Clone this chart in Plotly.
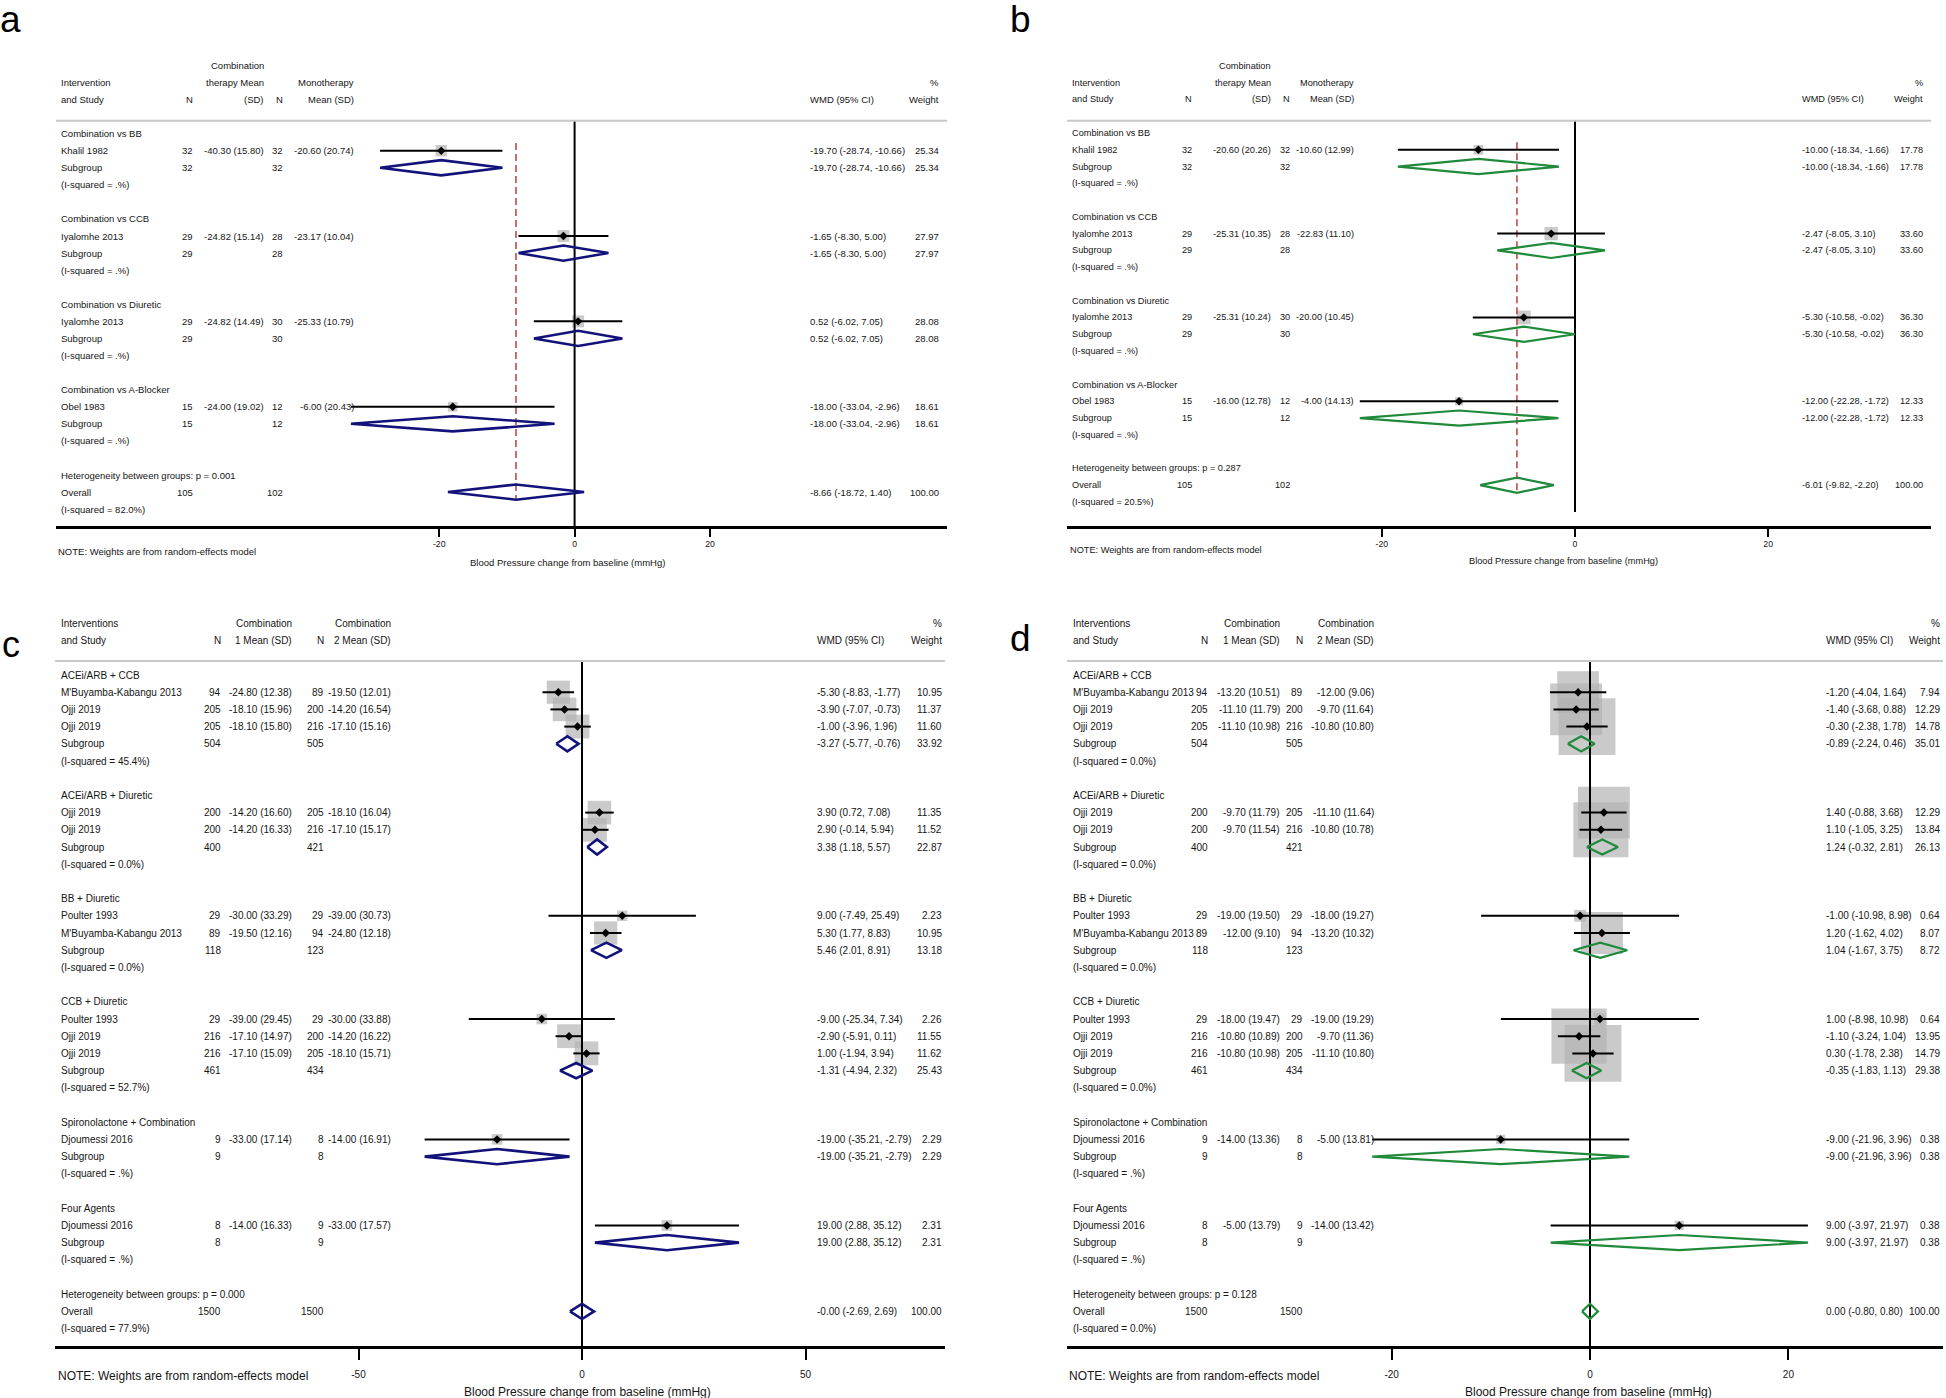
import math
import plotly.graph_objects as go

W, H = 1946, 1398
FONT = "Arial, 'Liberation Sans', Helvetica, sans-serif"
TXT = "#151515"

# ---------------- Panel a data ----------------
A_GROUPS = ["Combination vs BB", "Combination vs CCB", "Combination vs Diuretic", "Combination vs A-Blocker"]
A_STUDIES = ["Khalil 1982", "Iyalomhe 2013", "Iyalomhe 2013", "Obel 1983"]
A_STUDY_GROUP = [0, 1, 2, 3]
A_N1 = [32, 29, 29, 15]
A_MEAN1 = [-40.30, -24.82, -24.82, -24.00]
A_SD1 = [15.80, 15.14, 14.49, 19.02]
A_N2 = [32, 28, 30, 12]
A_MEAN2 = [-20.60, -23.17, -25.33, -6.00]
A_SD2 = [20.74, 10.04, 10.79, 20.43]
A_WMD = [-19.70, -1.65, 0.52, -18.00]
A_LO = [-28.74, -8.30, -6.02, -33.04]
A_HI = [-10.66, 5.00, 7.05, -2.96]
A_WEIGHT = [25.34, 27.97, 28.08, 18.61]
A_SUB_N1 = [32, 29, 29, 15]
A_SUB_N2 = [32, 28, 30, 12]
A_SUB_WMD = [-19.70, -1.65, 0.52, -18.00]
A_SUB_LO = [-28.74, -8.30, -6.02, -33.04]
A_SUB_HI = [-10.66, 5.00, 7.05, -2.96]
A_SUB_WEIGHT = [25.34, 27.97, 28.08, 18.61]
A_SUB_I2 = [None, None, None, None]
A_HET_P = 0.001
A_OV_N1, A_OV_N2 = 105, 102
A_OV_WMD, A_OV_LO, A_OV_HI, A_OV_WEIGHT, A_OV_I2 = -8.66, -18.72, 1.40, 100.00, 82.0

# ---------------- Panel b data ----------------
B_GROUPS = ["Combination vs BB", "Combination vs CCB", "Combination vs Diuretic", "Combination vs A-Blocker"]
B_STUDIES = ["Khalil 1982", "Iyalomhe 2013", "Iyalomhe 2013", "Obel 1983"]
B_STUDY_GROUP = [0, 1, 2, 3]
B_N1 = [32, 29, 29, 15]
B_MEAN1 = [-20.60, -25.31, -25.31, -16.00]
B_SD1 = [20.26, 10.35, 10.24, 12.78]
B_N2 = [32, 28, 30, 12]
B_MEAN2 = [-10.60, -22.83, -20.00, -4.00]
B_SD2 = [12.99, 11.10, 10.45, 14.13]
B_WMD = [-10.00, -2.47, -5.30, -12.00]
B_LO = [-18.34, -8.05, -10.58, -22.28]
B_HI = [-1.66, 3.10, -0.02, -1.72]
B_WEIGHT = [17.78, 33.60, 36.30, 12.33]
B_SUB_N1 = [32, 29, 29, 15]
B_SUB_N2 = [32, 28, 30, 12]
B_SUB_WMD = [-10.00, -2.47, -5.30, -12.00]
B_SUB_LO = [-18.34, -8.05, -10.58, -22.28]
B_SUB_HI = [-1.66, 3.10, -0.02, -1.72]
B_SUB_WEIGHT = [17.78, 33.60, 36.30, 12.33]
B_SUB_I2 = [None, None, None, None]
B_HET_P = 0.287
B_OV_N1, B_OV_N2 = 105, 102
B_OV_WMD, B_OV_LO, B_OV_HI, B_OV_WEIGHT, B_OV_I2 = -6.01, -9.82, -2.20, 100.00, 20.5

# ---------------- Panel c data ----------------
C_GROUPS = ["ACEi/ARB + CCB", "ACEi/ARB + Diuretic", "BB + Diuretic", "CCB + Diuretic",
            "Spironolactone + Combination", "Four Agents"]
C_STUDIES = ["M'Buyamba-Kabangu 2013", "Ojji 2019", "Ojji 2019", "Ojji 2019", "Ojji 2019",
             "Poulter 1993", "M'Buyamba-Kabangu 2013", "Poulter 1993", "Ojji 2019", "Ojji 2019",
             "Djoumessi 2016", "Djoumessi 2016"]
C_STUDY_GROUP = [0, 0, 0, 1, 1, 2, 2, 3, 3, 3, 4, 5]
C_N1 = [94, 205, 205, 200, 200, 29, 89, 29, 216, 216, 9, 8]
C_MEAN1 = [-24.80, -18.10, -18.10, -14.20, -14.20, -30.00, -19.50, -39.00, -17.10, -17.10, -33.00, -14.00]
C_SD1 = [12.38, 15.96, 15.80, 16.60, 16.33, 33.29, 12.16, 29.45, 14.97, 15.09, 17.14, 16.33]
C_N2 = [89, 200, 216, 205, 216, 29, 94, 29, 200, 205, 8, 9]
C_MEAN2 = [-19.50, -14.20, -17.10, -18.10, -17.10, -39.00, -24.80, -30.00, -14.20, -18.10, -14.00, -33.00]
C_SD2 = [12.01, 16.54, 15.16, 16.04, 15.17, 30.73, 12.18, 33.88, 16.22, 15.71, 16.91, 17.57]
C_WMD = [-5.30, -3.90, -1.00, 3.90, 2.90, 9.00, 5.30, -9.00, -2.90, 1.00, -19.00, 19.00]
C_LO = [-8.83, -7.07, -3.96, 0.72, -0.14, -7.49, 1.77, -25.34, -5.91, -1.94, -35.21, 2.88]
C_HI = [-1.77, -0.73, 1.96, 7.08, 5.94, 25.49, 8.83, 7.34, 0.11, 3.94, -2.79, 35.12]
C_WEIGHT = [10.95, 11.37, 11.60, 11.35, 11.52, 2.23, 10.95, 2.26, 11.55, 11.62, 2.29, 2.31]
C_SUB_N1 = [504, 400, 118, 461, 9, 8]
C_SUB_N2 = [505, 421, 123, 434, 8, 9]
C_SUB_WMD = [-3.27, 3.38, 5.46, -1.31, -19.00, 19.00]
C_SUB_LO = [-5.77, 1.18, 2.01, -4.94, -35.21, 2.88]
C_SUB_HI = [-0.76, 5.57, 8.91, 2.32, -2.79, 35.12]
C_SUB_WEIGHT = [33.92, 22.87, 13.18, 25.43, 2.29, 2.31]
C_SUB_I2 = [45.4, 0.0, 0.0, 52.7, None, None]
C_HET_P = 0.000
C_OV_N1, C_OV_N2 = 1500, 1500
C_OV_WMD, C_OV_LO, C_OV_HI, C_OV_WEIGHT, C_OV_I2 = -0.0, -2.69, 2.69, 100.00, 77.9

# ---------------- Panel d data ----------------
D_GROUPS = ["ACEi/ARB + CCB", "ACEi/ARB + Diuretic", "BB + Diuretic", "CCB + Diuretic",
            "Spironolactone + Combination", "Four Agents"]
D_STUDIES = ["M'Buyamba-Kabangu 2013", "Ojji 2019", "Ojji 2019", "Ojji 2019", "Ojji 2019",
             "Poulter 1993", "M'Buyamba-Kabangu 2013", "Poulter 1993", "Ojji 2019", "Ojji 2019",
             "Djoumessi 2016", "Djoumessi 2016"]
D_STUDY_GROUP = [0, 0, 0, 1, 1, 2, 2, 3, 3, 3, 4, 5]
D_N1 = [94, 205, 205, 200, 200, 29, 89, 29, 216, 216, 9, 8]
D_MEAN1 = [-13.20, -11.10, -11.10, -9.70, -9.70, -19.00, -12.00, -18.00, -10.80, -10.80, -14.00, -5.00]
D_SD1 = [10.51, 11.79, 10.98, 11.79, 11.54, 19.50, 9.10, 19.47, 10.89, 10.98, 13.36, 13.79]
D_N2 = [89, 200, 216, 205, 216, 29, 94, 29, 200, 205, 8, 9]
D_MEAN2 = [-12.00, -9.70, -10.80, -11.10, -10.80, -18.00, -13.20, -19.00, -9.70, -11.10, -5.00, -14.00]
D_SD2 = [9.06, 11.64, 10.80, 11.64, 10.78, 19.27, 10.32, 19.29, 11.36, 10.80, 13.81, 13.42]
D_WMD = [-1.20, -1.40, -0.30, 1.40, 1.10, -1.00, 1.20, 1.00, -1.10, 0.30, -9.00, 9.00]
D_LO = [-4.04, -3.68, -2.38, -0.88, -1.05, -10.98, -1.62, -8.98, -3.24, -1.78, -21.96, -3.97]
D_HI = [1.64, 0.88, 1.78, 3.68, 3.25, 8.98, 4.02, 10.98, 1.04, 2.38, 3.96, 21.97]
D_WEIGHT = [7.94, 12.29, 14.78, 12.29, 13.84, 0.64, 8.07, 0.64, 13.95, 14.79, 0.38, 0.38]
D_SUB_N1 = [504, 400, 118, 461, 9, 8]
D_SUB_N2 = [505, 421, 123, 434, 8, 9]
D_SUB_WMD = [-0.89, 1.24, 1.04, -0.35, -9.00, 9.00]
D_SUB_LO = [-2.24, -0.32, -1.67, -1.83, -21.96, -3.97]
D_SUB_HI = [0.46, 2.81, 3.75, 1.13, 3.96, 21.97]
D_SUB_WEIGHT = [35.01, 26.13, 8.72, 29.38, 0.38, 0.38]
D_SUB_I2 = [0.0, 0.0, 0.0, 0.0, None, None]
D_HET_P = 0.128
D_OV_N1, D_OV_N2 = 1500, 1500
D_OV_WMD, D_OV_LO, D_OV_HI, D_OV_WEIGHT, D_OV_I2 = 0.00, -0.80, 0.80, 100.00, 0.0

# ---------------- header / axis labels ----------------
HEAD_AB = [(-4, "m1", "Combination", "right"), (-3, "label", "Intervention", "left"),
           (-3, "m1", "therapy Mean", "right"), (-3, "m2", "Monotherapy", "right"),
           (-3, "w", "%", "right"), (-2, "label", "and Study", "left"), (-2, "n1", "N", "right"),
           (-2, "m1", "(SD)", "right"), (-2, "n2", "N", "right"), (-2, "m2", "Mean (SD)", "right"),
           (-2, "wmd", "WMD (95% CI)", "left"), (-2, "w", "Weight", "right")]
HEAD_CD = [(-3, "label", "Interventions", "left"), (-3, "m1", "Combination", "right"),
           (-3, "m2", "Combination", "right"), (-3, "w", "%", "right"),
           (-2, "label", "and Study", "left"), (-2, "n1", "N", "right"), (-2, "m1", "1 Mean (SD)", "right"),
           (-2, "n2", "N", "right"), (-2, "m2", "2 Mean (SD)", "right"),
           (-2, "wmd", "WMD (95% CI)", "left"), (-2, "w", "Weight", "right")]
X_TITLE = "Blood Pressure change from baseline (mmHg)"
NOTE = "NOTE: Weights are from random-effects model"
TICKS_AB = [-20, 0, 20]
TICKS_C = [-50, 0, 50]
TICKS_D = [-20, 0, 20]


def pack(p):
    g = globals()
    keys = ["GROUPS", "STUDIES", "STUDY_GROUP", "N1", "MEAN1", "SD1", "N2", "MEAN2", "SD2", "WMD",
            "LO", "HI", "WEIGHT", "SUB_N1", "SUB_N2", "SUB_WMD", "SUB_LO", "SUB_HI", "SUB_WEIGHT",
            "SUB_I2", "HET_P", "OV_N1", "OV_N2", "OV_WMD", "OV_LO", "OV_HI", "OV_WEIGHT", "OV_I2"]
    return {k: g[p + "_" + k] for k in keys}


NAVY = "#12127a"
GREEN = "#1e8a3a"
CFG = [
    dict(data=pack("A"), left=56, right=947, x0=574.6, scale=6.77, top=40, axis_y=526,
         row0=133.6, rowh=17.07, gray_y=120.7, zero_bottom=526,
         cols=dict(label=59.5, n1=194, m1=265, n2=284, m2=355, wmd=809, w=940),
         font=9.5, tick_font=8.7, title_font=9.5, note_font=9.5, ticks=TICKS_AB, ticklen=8,
         standoff=0, box_k=2.25, dcolor=NAVY, dwidth=2.6, ref=True, header=HEAD_AB,
         letter=("a", -1, 20, 37), title=(567, 562), note=(57, 551)),
    dict(data=pack("B"), left=1067, right=1931, x0=1575, scale=9.66, top=40, axis_y=526,
         row0=133, rowh=16.77, gray_y=120.7, zero_bottom=512,
         cols=dict(label=1070.5, n1=1193, m1=1272, n2=1291, m2=1355, wmd=1801, w=1924),
         font=9.2, tick_font=8.7, title_font=9.2, note_font=9.2, ticks=TICKS_AB, ticklen=8,
         standoff=0, box_k=2.3, dcolor=GREEN, dwidth=2.2, ref=True, header=HEAD_AB,
         letter=("b", 1009, 19, 37), title=(1563, 561), note=(1069, 550)),
    dict(data=pack("C"), left=55, right=945, x0=582, scale=4.47, top=600, axis_y=1346,
         row0=675, rowh=17.2, gray_y=661, zero_bottom=1346,
         cols=dict(label=60, n1=222, m1=293, n2=325, m2=392, wmd=816, w=943),
         font=10, tick_font=10, title_font=12, note_font=12, ticks=TICKS_C, ticklen=11,
         standoff=6, box_k=7.0, dcolor=NAVY, dwidth=2.6, ref=False, header=HEAD_CD,
         letter=("c", 1, 644, 36), title=(587, 1392), note=(57, 1376)),
    dict(data=pack("D"), left=1067, right=1943, x0=1590, scale=9.92, top=600, axis_y=1346,
         row0=675, rowh=17.2, gray_y=661, zero_bottom=1346,
         cols=dict(label=1071.5, n1=1209, m1=1281, n2=1304, m2=1375, wmd=1825, w=1941),
         font=10, tick_font=10, title_font=12, note_font=12, ticks=TICKS_D, ticklen=11,
         standoff=6, box_k=14.8, dcolor=GREEN, dwidth=2.2, ref=False, header=HEAD_CD,
         letter=("d", 1009, 638, 37), title=(1588, 1392), note=(1068, 1376)),
]


def ms(m, sd):
    return f"{m:.2f} ({sd:.2f})"


def ci(e, lo, hi):
    return f"{e:.2f} ({lo:.2f}, {hi:.2f})"


def i2txt(v):
    return "(I-squared = .%)" if v is None else f"(I-squared = {v:.1f}%)"


fig = go.Figure()
annotations = []
shapes = []
layout_axes = {}


def build(i, C):
    D = C["data"]
    xa = "x" if i == 1 else f"x{i}"
    ya = "y" if i == 1 else f"y{i}"
    xkey = "xaxis" if i == 1 else f"xaxis{i}"
    ykey = "yaxis" if i == 1 else f"yaxis{i}"
    L, R, x0, s = C["left"], C["right"], C["x0"], C["scale"]
    T, B, r0, rh = C["top"], C["axis_y"], C["row0"], C["rowh"]
    cols = C["cols"]
    fs = C["font"]

    def krow(py):
        return (py - r0) / rh

    layout_axes[xkey] = dict(
        domain=[L / W, R / W], range=[(L - x0) / s, (R - x0) / s], anchor=ya,
        tickmode="array", tickvals=C["ticks"], ticktext=[str(t) for t in C["ticks"]],
        ticks="outside", ticklen=C["ticklen"], tickwidth=2, tickcolor="black",
        ticklabelstandoff=C["standoff"],
        showline=True, linewidth=2.5, linecolor="black", showgrid=False, zeroline=False,
        tickfont=dict(size=C["tick_font"], family=FONT, color=TXT), fixedrange=True)
    layout_axes[ykey] = dict(domain=[1 - B / H, 1 - T / H], range=[krow(B), krow(T)],
                             anchor=xa, visible=False, fixedrange=True)

    def txt(col, k, text, align, size=None):
        annotations.append(dict(
            xref="paper", yref=ya, x=cols[col] / W, y=k, text=text, showarrow=False,
            xanchor=align, yanchor="middle", borderpad=0,
            font=dict(size=size or fs, family=FONT, color=TXT)))

    for (k, col, text, align) in C["header"]:
        txt(col, k, text, align)

    k = 0
    study_rows = []
    sub_rows = []
    for g, gname in enumerate(D["GROUPS"]):
        txt("label", k, gname, "left")
        k += 1
        for j, gg in enumerate(D["STUDY_GROUP"]):
            if gg != g:
                continue
            study_rows.append(k)
            txt("label", k, D["STUDIES"][j], "left")
            txt("n1", k, str(D["N1"][j]), "right")
            txt("m1", k, ms(D["MEAN1"][j], D["SD1"][j]), "right")
            txt("n2", k, str(D["N2"][j]), "right")
            txt("m2", k, ms(D["MEAN2"][j], D["SD2"][j]), "right")
            txt("wmd", k, ci(D["WMD"][j], D["LO"][j], D["HI"][j]), "left")
            txt("w", k, f"{D['WEIGHT'][j]:.2f}", "right")
            k += 1
        sub_rows.append(k)
        txt("label", k, "Subgroup", "left")
        txt("n1", k, str(D["SUB_N1"][g]), "right")
        txt("n2", k, str(D["SUB_N2"][g]), "right")
        txt("wmd", k, ci(D["SUB_WMD"][g], D["SUB_LO"][g], D["SUB_HI"][g]), "left")
        txt("w", k, f"{D['SUB_WEIGHT'][g]:.2f}", "right")
        k += 1
        txt("label", k, i2txt(D["SUB_I2"][g]), "left")
        k += 2
    txt("label", k, f"Heterogeneity between groups: p = {D['HET_P']:.3f}", "left")
    ov_row = k + 1
    txt("label", ov_row, "Overall", "left")
    txt("n1", ov_row, str(D["OV_N1"]), "right")
    txt("n2", ov_row, str(D["OV_N2"]), "right")
    txt("wmd", ov_row, ci(D["OV_WMD"], D["OV_LO"], D["OV_HI"]), "left")
    txt("w", ov_row, f"{D['OV_WEIGHT']:.2f}", "right")
    txt("label", ov_row + 1, i2txt(D["OV_I2"]), "left")

    # header rule
    gk = krow(C["gray_y"])
    shapes.append(dict(type="line", xref="paper", yref=ya, x0=L / W, x1=R / W, y0=gk, y1=gk,
                       line=dict(color="#c8c8c8", width=2)))

    # weight boxes
    fig.add_trace(go.Scatter(
        x=D["WMD"], y=study_rows, mode="markers", xaxis=xa, yaxis=ya, hoverinfo="skip",
        cliponaxis=False,
        marker=dict(symbol="square", size=[C["box_k"] * math.sqrt(w) for w in D["WEIGHT"]],
                    color="#b3b3b3", line=dict(width=0))))

    # no-effect line
    fig.add_trace(go.Scatter(x=[0, 0], y=[gk, krow(C["zero_bottom"])], mode="lines", xaxis=xa,
                             yaxis=ya, hoverinfo="skip", line=dict(color="black", width=2)))

    # overall reference line
    if C["ref"]:
        fig.add_trace(go.Scatter(x=[D["OV_WMD"], D["OV_WMD"]], y=[0.55, ov_row + 0.45], mode="lines",
                                 xaxis=xa, yaxis=ya, hoverinfo="skip",
                                 line=dict(color="#b23232", width=1.4, dash="7px,4px")))

    # CI lines
    cx, cy = [], []
    for lo, hi, r in zip(D["LO"], D["HI"], study_rows):
        cx += [lo, hi, None]
        cy += [r, r, None]
    fig.add_trace(go.Scatter(x=cx, y=cy, mode="lines", xaxis=xa, yaxis=ya, hoverinfo="skip",
                             line=dict(color="black", width=2)))
    # point estimates
    fig.add_trace(go.Scatter(x=D["WMD"], y=study_rows, mode="markers", xaxis=xa, yaxis=ya,
                             hoverinfo="skip", cliponaxis=False,
                             marker=dict(symbol="diamond", size=6.5, color="black",
                                         line=dict(width=0))))
    # pooled diamonds
    hh = 7.6 / rh
    dx, dy = [], []
    ests = list(zip(D["SUB_WMD"], D["SUB_LO"], D["SUB_HI"], sub_rows)) + \
        [(D["OV_WMD"], D["OV_LO"], D["OV_HI"], ov_row)]
    for e, lo, hi, r in ests:
        dx += [lo, e, hi, e, lo, None]
        dy += [r, r - hh, r, r + hh, r, None]
    fig.add_trace(go.Scatter(x=dx, y=dy, mode="lines", xaxis=xa, yaxis=ya, hoverinfo="skip",
                             line=dict(color=C["dcolor"], width=C["dwidth"])))

    # panel letter, axis title, note
    lt, lx, ly, lsz = C["letter"]
    annotations.append(dict(xref="paper", yref="paper", x=lx / W, y=1 - ly / H, text=lt,
                            showarrow=False, xanchor="left", yanchor="middle", borderpad=0,
                            font=dict(size=lsz, family=FONT, color="black")))
    tx, ty = C["title"]
    annotations.append(dict(xref="paper", yref="paper", x=tx / W, y=1 - ty / H, text=X_TITLE,
                            showarrow=False, xanchor="center", yanchor="middle", borderpad=0,
                            font=dict(size=C["title_font"], family=FONT, color=TXT)))
    nx, ny = C["note"]
    annotations.append(dict(xref="paper", yref="paper", x=nx / W, y=1 - ny / H, text=NOTE,
                            showarrow=False, xanchor="left", yanchor="middle", borderpad=0,
                            font=dict(size=C["note_font"], family=FONT, color=TXT)))


for idx, cfg in enumerate(CFG):
    build(idx + 1, cfg)

fig.update_layout(width=W, height=H, margin=dict(l=0, r=0, t=0, b=0), autosize=False,
                  paper_bgcolor="white", plot_bgcolor="white", showlegend=False,
                  font=dict(family=FONT, color=TXT), annotations=annotations, shapes=shapes,
                  **layout_axes)

fig.write_html("out.html", config={"displayModeBar": False, "staticPlot": True},
               post_script="document.body.style.margin='0';document.body.style.overflow='hidden';")
